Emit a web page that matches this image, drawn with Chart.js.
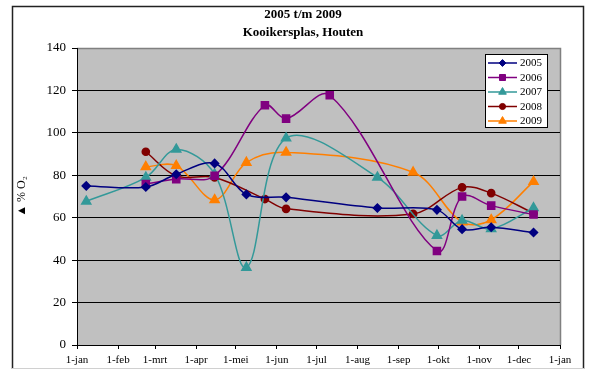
<!DOCTYPE html>
<html><head><meta charset="utf-8">
<script src="https://cdn.jsdelivr.net/npm/chart.js@4.4.0/dist/chart.umd.min.js"></script>
<style>html,body{margin:0;padding:0;background:#fff}#wrap{width:589px;height:370px;position:relative}</style>
</head><body><div id="wrap"><canvas id="c" width="589" height="370"></canvas></div>
<script>
// ---- data ----
const titleLines = ['2005 t/m 2009', 'Kooikersplas, Houten'];
const yAxisTitle = '▲ % O₂';
const monthLabels = ['1-jan','1-feb','1-mrt','1-apr','1-mei','1-jun','1-jul','1-aug','1-sep','1-okt','1-nov','1-dec','1-jan'];
const monthDays = [0,31,59,90,120,151,181,212,243,273,304,334,365];
const seriesNames = ['2005','2006','2007','2008','2009'];

const days2005 = [7,52,75,104,128,158,227,272,291,313,345];
const values2005 = [75,74.5,80.5,85.6,71,69.6,64.6,63.7,54.6,55.5,53];

const days2006 = [52,75,104,142,158,191,272,291,313,345];
const values2006 = [75.9,78.2,79.8,113,106.7,117.7,44.3,70,65.7,61.5];

const days2007 = [7,52,75,104,128,158,227,272,291,313,345];
const values2007 = [67.7,79,92.2,80.5,36.5,97.5,79,51.6,58.7,54.7,64.6];

const days2008 = [52,75,104,142,158,254,291,313,345];
const values2008 = [91.1,79.7,79,68.8,64.2,61.8,74.3,71.6,62.1];

const days2009 = [52,75,104,128,158,254,291,313,345];
const values2009 = [84,84.5,68.4,86,90.8,81.4,57.9,59,77];

// ---- styles ----
const colors = ['#000080','#800080','#339999','#800000','#ff7f00'];
const shapes = ['rectRot','rect','triangle','circle','triangle'];
const radii = [4,5,5.2,3.6,5.2];
const allDays = [days2005,days2006,days2007,days2008,days2009];
const allValues = [values2005,values2006,values2007,values2008,values2009];

const datasets = seriesNames.map((name,i)=>({
  label: name,
  data: allDays[i].map((d,j)=>({x:d, y:allValues[i][j]})),
  borderColor: colors[i],
  backgroundColor: colors[i],
  pointBackgroundColor: colors[i],
  pointBorderColor: colors[i],
  pointStyle: shapes[i],
  pointRadius: radii[i],
  borderWidth: 1.5,
  tension: 0.35,
  fill: false
}));

const SERIF = "'Liberation Serif','Times New Roman',serif";

function drawMarker(ctx, style, r, x, y, color){
  if (Chart.helpers && Chart.helpers.drawPoint){
    ctx.save();
    ctx.fillStyle = color; ctx.strokeStyle = color; ctx.lineWidth = 1;
    Chart.helpers.drawPoint(ctx, {pointStyle: style, radius: r, borderWidth: 1, rotation: 0}, x, y);
    ctx.restore();
  }
}

const decor = {
  id: 'decor',
  beforeDraw(chart){
    const ctx = chart.ctx, a = chart.chartArea;
    ctx.save();
    ctx.fillStyle = '#fff';
    ctx.fillRect(0,0,chart.width,chart.height);
    // outer frame
    ctx.strokeStyle = '#222'; ctx.lineWidth = 1.5;
    ctx.beginPath();
    ctx.moveTo(12.5, 369); ctx.lineTo(12.5, 6.5); ctx.lineTo(583.5, 6.5); ctx.lineTo(583.5, 369);
    ctx.stroke();
    ctx.strokeStyle = '#d0d0d0'; ctx.lineWidth = 1;
    ctx.beginPath(); ctx.moveTo(12, 368.5); ctx.lineTo(584, 368.5); ctx.stroke();
    // plot background
    ctx.fillStyle = '#c0c0c0';
    ctx.fillRect(a.left, a.top, a.right - a.left, a.bottom - a.top);
    ctx.strokeStyle = '#808080'; ctx.lineWidth = 1.5;
    ctx.beginPath(); ctx.moveTo(a.left, a.top+0.5); ctx.lineTo(a.right+0.5, a.top+0.5); ctx.lineTo(a.right+0.5, a.bottom); ctx.stroke();
    // title
    ctx.fillStyle = '#000';
    ctx.font = 'bold 13px ' + SERIF;
    ctx.textAlign = 'center'; ctx.textBaseline = 'middle';
    ctx.fillText(titleLines[0], 303, 15);
    ctx.fillText(titleLines[1], 303, 33);
    ctx.restore();
  },
  afterDatasetsDraw(chart){
    const ctx = chart.ctx;
    const bx = 485.5, by = 54.5, bw = 62, bh = 73;
    ctx.save();
    ctx.fillStyle = '#fff';
    ctx.fillRect(bx, by, bw, bh);
    ctx.strokeStyle = '#000'; ctx.lineWidth = 1;
    ctx.strokeRect(bx, by, bw, bh);
    ctx.font = '11px ' + SERIF;
    ctx.textAlign = 'left'; ctx.textBaseline = 'middle';
    chart.data.datasets.forEach((ds,i)=>{
      const y = 63 + i*14.5;
      ctx.strokeStyle = ds.borderColor; ctx.lineWidth = 1.5;
      ctx.beginPath(); ctx.moveTo(488, y); ctx.lineTo(517, y); ctx.stroke();
      drawMarker(ctx, ds.pointStyle, ds.pointRadius*0.85, 502.5, y, ds.borderColor);
      ctx.fillStyle = '#000';
      ctx.fillText(ds.label, 520, y + 0.5);
    });
    ctx.restore();
  }
};

new Chart(document.getElementById('c'), {
  type: 'line',
  data: { datasets },
  options: {
    responsive: false,
    animation: false,
    devicePixelRatio: 1,
    layout: { padding: { top: 48, right: 29, left: 0, bottom: 0 } },
    plugins: { legend: { display: false }, title: { display: false }, tooltip: { enabled: false } },
    scales: {
      x: {
        type: 'linear', min: 0, max: 365,
        afterBuildTicks: s => { s.ticks = monthDays.map(v => ({ value: v })); },
        afterFit: s => { s.height = 25; },
        ticks: {
          autoSkip: false, maxRotation: 0, minRotation: 0, padding: 5,
          color: '#000', font: { family: SERIF, size: 11 },
          callback: (v, i) => monthLabels[i]
        },
        grid: { drawOnChartArea: false, drawTicks: true, tickLength: 4, tickColor: '#000', color: '#000' },
        border: { display: true, color: '#000', width: 1 }
      },
      y: {
        min: 0, max: 140,
        afterFit: s => { s.width = 77; },
        ticks: { stepSize: 20, padding: 6, color: '#000', font: { family: SERIF, size: 13 } },
        grid: {
          color: c => c.tick.value === 140 ? 'rgba(0,0,0,0)' : '#000',
          tickColor: '#000', tickLength: 5, lineWidth: 1
        },
        border: { display: true, color: '#000', width: 1 },
        title: { display: true, text: yAxisTitle, color: '#000', font: { family: SERIF, size: 12 }, padding: { top: 15, bottom: 0 } }
      }
    }
  },
  plugins: [decor]
});
</script>
</body></html>
